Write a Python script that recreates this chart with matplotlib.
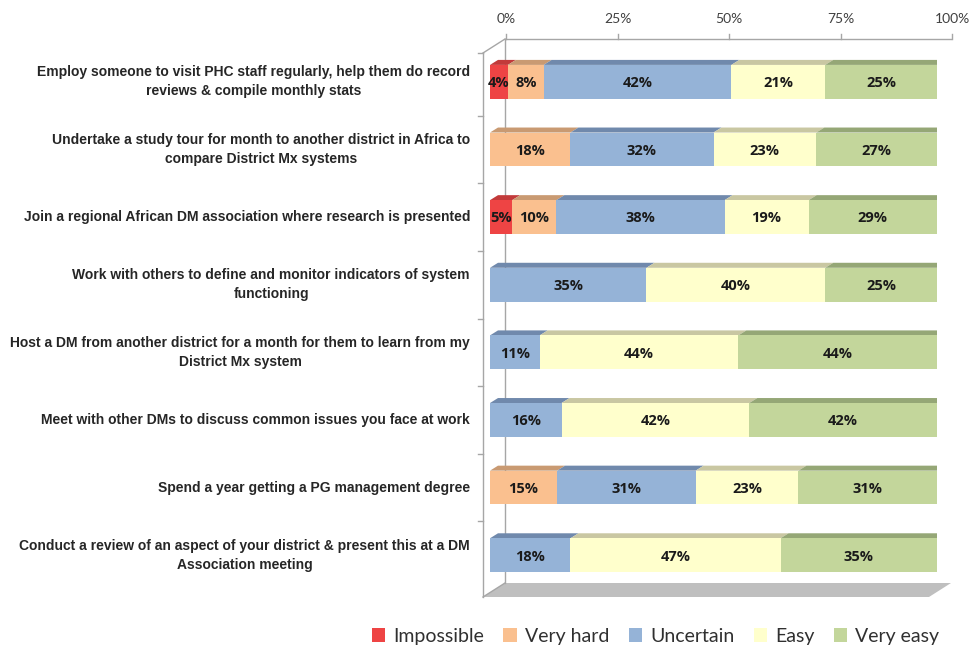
import numpy as np
import matplotlib.pyplot as plt
from matplotlib.patches import Polygon

categories = [
    "Employ someone to visit PHC staff regularly, help them do record\nreviews & compile monthly stats",
    "Undertake a study tour for month to another district in Africa to\ncompare District Mx systems",
    "Join a regional African DM association where research is presented",
    "Work with others to define and monitor indicators of system\nfunctioning",
    "Host a DM from another district for a month for them to learn from my\nDistrict Mx system",
    "Meet with other DMs to discuss common issues you face at work",
    "Spend a year getting a PG management degree",
    "Conduct a review of an aspect of your district & present this at a DM\nAssociation meeting",
]
series = ["Impossible", "Very hard", "Uncertain", "Easy", "Very easy"]
impossible = [4, 0, 5, 0, 0, 0, 0, 0]
very_hard = [8, 18, 10, 0, 0, 0, 15, 0]
uncertain = [42, 32, 38, 35, 11, 16, 31, 18]
easy = [21, 23, 19, 40, 44, 42, 23, 47]
very_easy = [25, 27, 29, 25, 44, 42, 31, 35]
xticks = [0, 25, 50, 75, 100]

front_cols = ["#EE4444", "#FAC08F", "#95B3D7", "#FFFFCC", "#C3D69B"]
top_cols = ["#C23A3A", "#C99A72", "#7089AC", "#C9C7A2", "#95A776"]
side_col = "#7F9160"

W, H = 971, 648
fig = plt.figure(figsize=(W / 100, H / 100), dpi=100)
# front plane of the bars
ax = fig.add_axes([490 / W, 1 - 589 / H, 447 / W, 541 / H])
n = len(categories)
ax.set_xlim(0, 100)
ax.set_ylim(n - 0.5, -0.5)
ax.axis('off')

# pixel -> data deltas
kx = 100 / 447
ky = n / 541
def dpx(dx, dy):
    return dx * kx, -dy * ky

data = np.array([impossible, very_hard, uncertain, easy, very_easy], dtype=float)
shares = data / data.sum(axis=0) * 100

gray = "#A6A6A6"
# 3D frame: front wall, back wall, floor
fx = -7 * kx
bdx, bdy = dpx(22, 14)
ytop = -0.5 + 5 * ky
ybot = n - 0.5 + 8 * ky
xr = 100 - 8 * kx
floor = Polygon([(fx, ybot), (xr, ybot), (xr + bdx, ybot + bdy), (fx + bdx, ybot + bdy)],
                closed=True, facecolor="#BFBFBF", edgecolor="none", clip_on=False, zorder=1)
ax.add_patch(floor)
ax.plot([fx, fx], [ytop, ybot], color=gray, lw=1, clip_on=False, zorder=2)
ax.plot([fx + bdx, fx + bdx], [ytop + bdy, ybot + bdy], color=gray, lw=1, clip_on=False, zorder=1)
ax.plot([fx, fx + bdx], [ytop, ytop + bdy], color=gray, lw=1, clip_on=False, zorder=2)
ax.plot([fx, fx + bdx], [ybot, ybot + bdy], color=gray, lw=1, clip_on=False, zorder=2)
ax.plot([fx + bdx, 100 + bdx - 8 * kx], [ytop + bdy, ytop + bdy], color=gray, lw=1, clip_on=False)
tk = 5 * ky
for t in xticks:
    xt = t * (100 - 8 * kx - fx) / 100 + fx + bdx + 1 * kx
    ax.plot([xt, xt], [ytop + bdy, ytop + bdy - tk], color=gray, lw=1, clip_on=False)
    ax.text(xt, ytop + bdy - 20 * ky, f"{t}%", ha='center', va='center',
            fontsize=10, color="#404040", family="Lato")
for b in list(np.arange(n - 1) + 0.5) + [ytop - 0.0]:
    ax.plot([fx - 5 * kx, fx], [b, b], color=gray, lw=1, clip_on=False)

# bars with top face and right side
bh = 0.5
ddx, ddy = dpx(8, 5)
left = np.zeros(n)
for j in range(len(series)):
    for i in range(n):
        w = shares[j, i]
        if w <= 0:
            continue
        l = left[i]
        yt = i - bh / 2
        ax.add_patch(Polygon([(l, yt), (l + w, yt), (l + w + ddx, yt + ddy), (l + ddx, yt + ddy)],
                             closed=True, facecolor=top_cols[j], edgecolor="none", zorder=3))
    ax.barh(range(n), shares[j], left=left, height=bh, color=front_cols[j],
            edgecolor="none", zorder=4, label=series[j])
    left = left + shares[j]

for i in range(n):
    yt = i - bh / 2
    yb = i + bh / 2
    ax.add_patch(Polygon([(100, yt), (100 + ddx, yt + ddy), (100 + ddx, yb + ddy), (100, yb)],
                         closed=True, facecolor=side_col, edgecolor="none", zorder=3))

left = np.zeros(n)
for j in range(len(series)):
    for i in range(n):
        if data[j, i] > 0:
            ax.text(left[i] + shares[j, i] / 2, i + 0.02, f"{int(data[j, i])}%", ha='center',
                    va='center', fontsize=10.5, fontweight='bold', color="#1a1a1a",
                    family="Open Sans", zorder=6)
    left = left + shares[j]

for i, c in enumerate(categories):
    ax.text(-20 * kx, i, c, ha='right', va='center', multialignment='center',
            fontsize=10, fontweight='bold', color="#262626",
            family="Liberation Sans", linespacing=1.45)

fig.legend(loc='lower center', bbox_to_anchor=(0.675, -0.022), ncol=5, frameon=False,
           handlelength=0.7, handleheight=0.7, handletextpad=0.4,
           columnspacing=1.0, labelcolor="#303030", prop={'family': 'Lato', 'size': 14})

fig.savefig("out.png", dpi=100)
